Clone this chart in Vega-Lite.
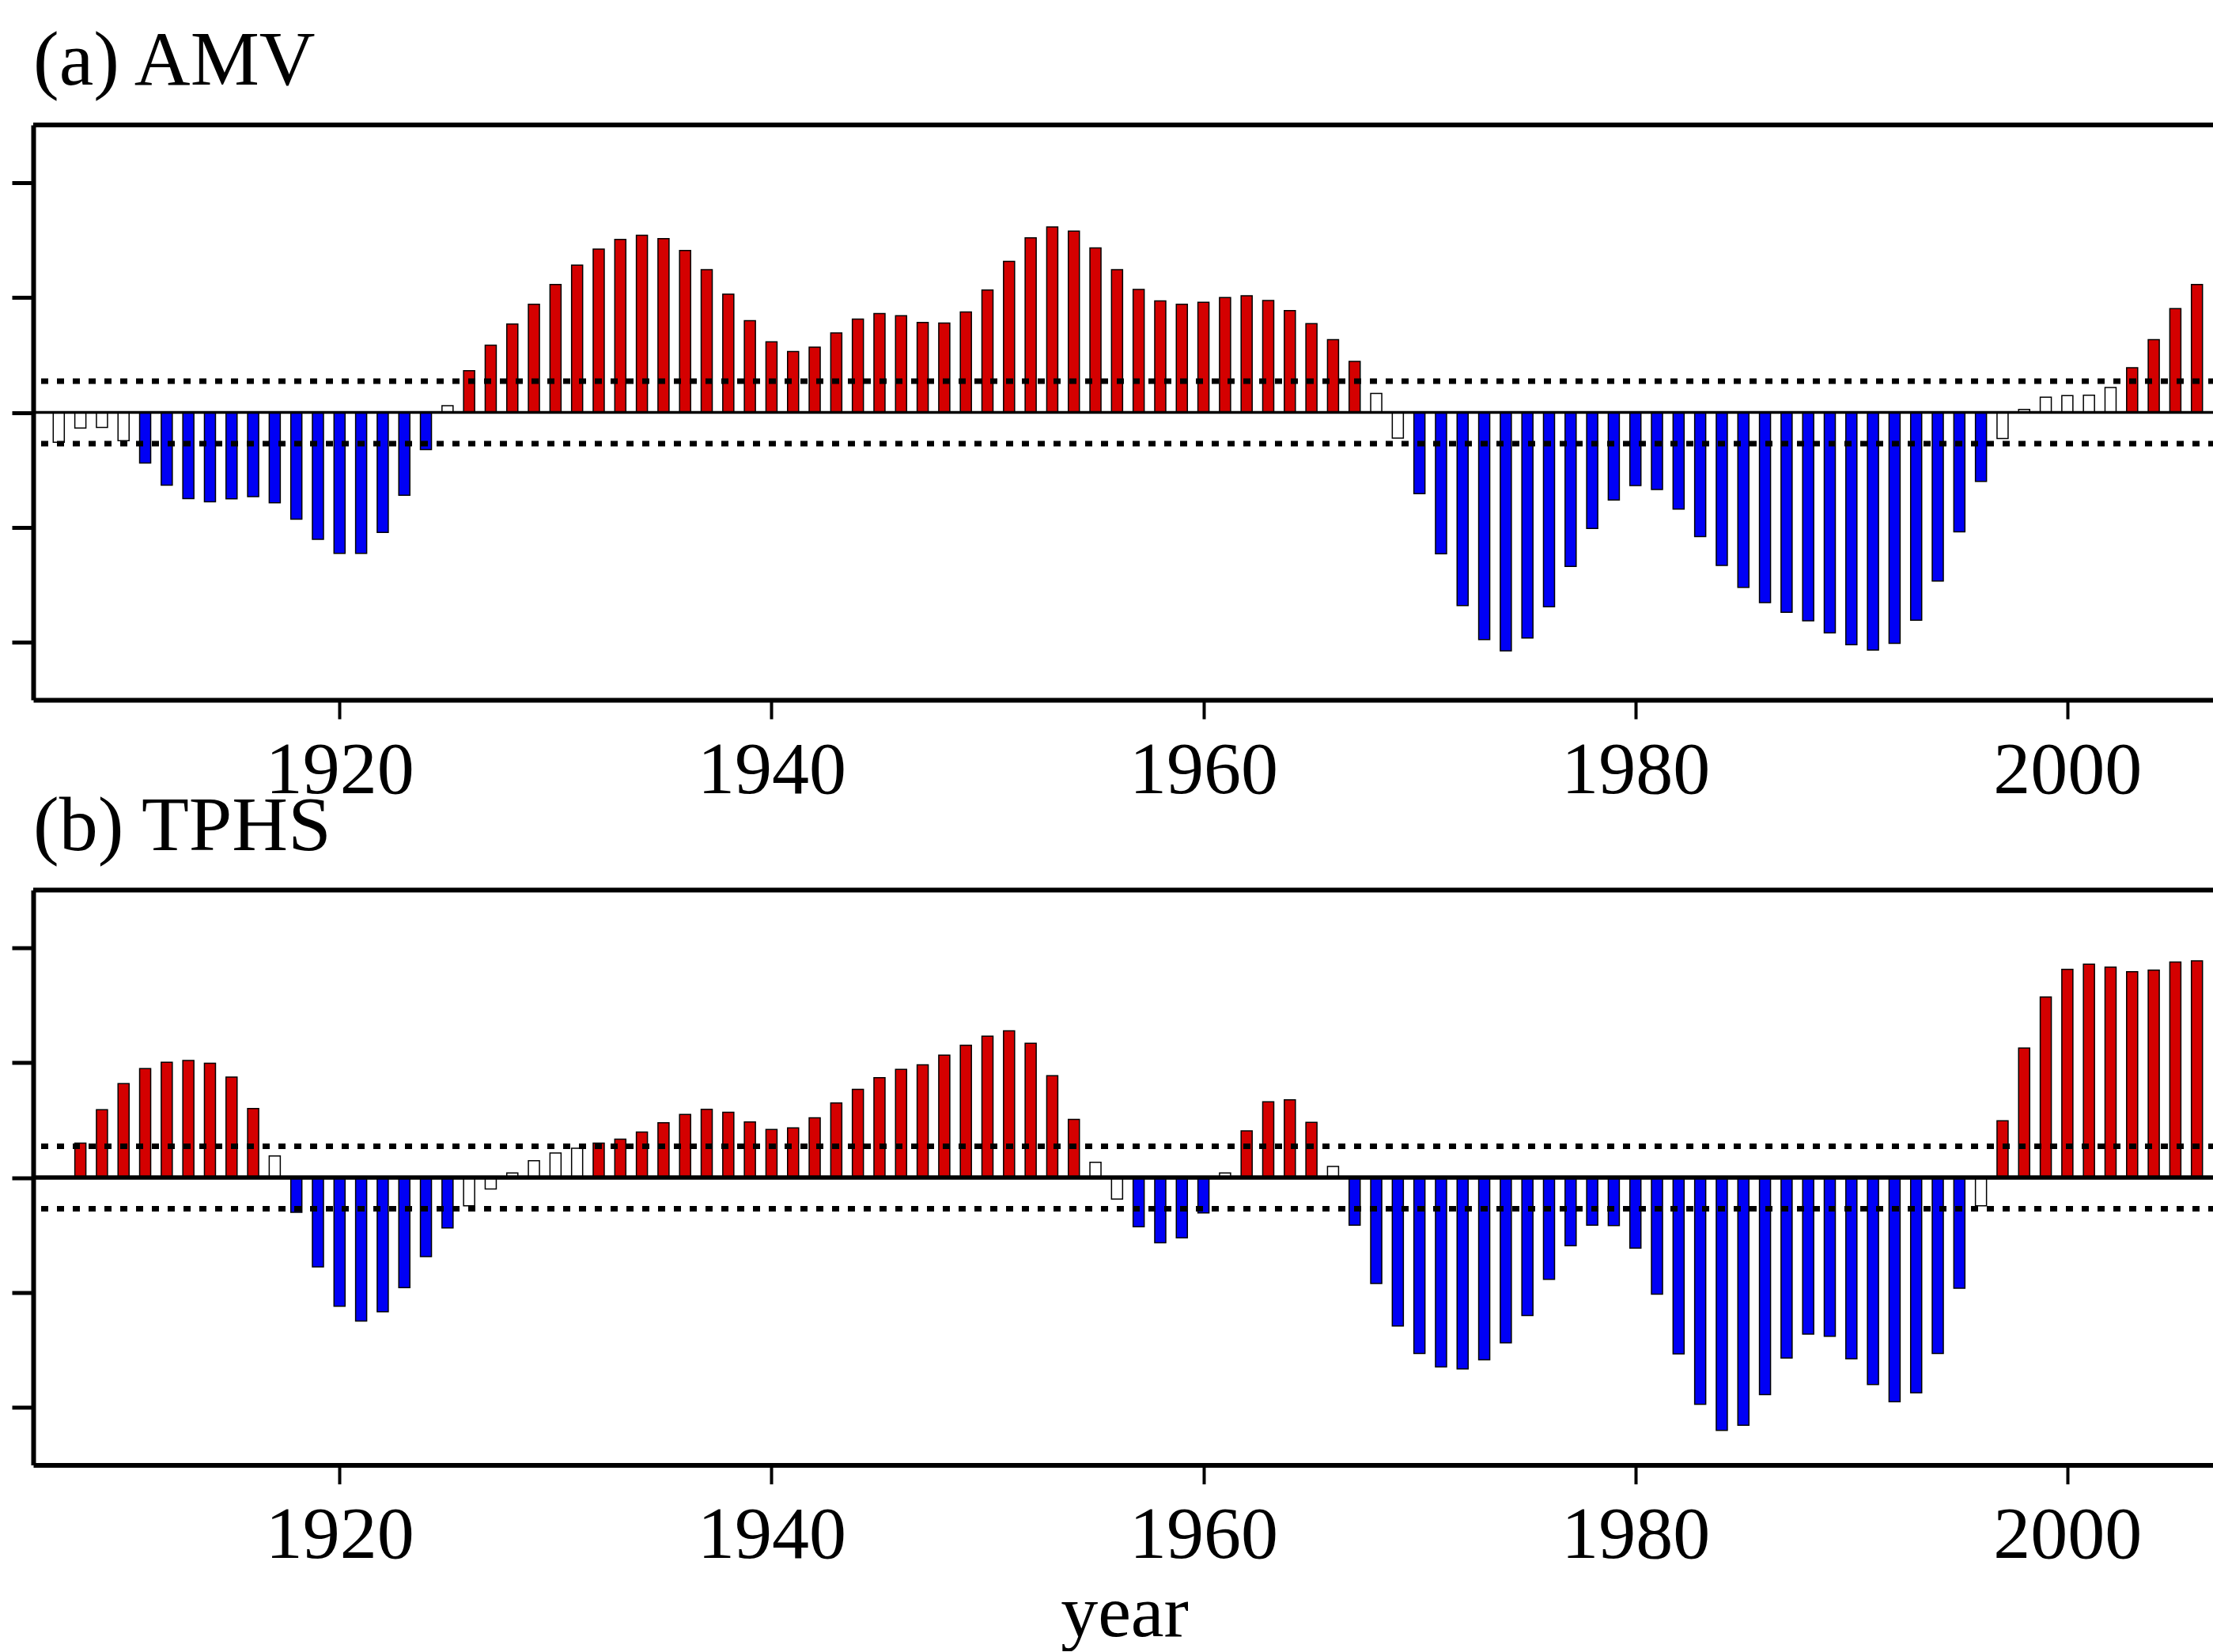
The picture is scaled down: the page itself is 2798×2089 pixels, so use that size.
{
  "$schema": "https://vega.github.io/schema/vega-lite/v6.json",
  "background": "white",
  "padding": {"left": 12, "top": 29, "right": 0, "bottom": 0},
  "config": {
    "view": {"stroke": null},
    "font": "Liberation Serif",
    "title": {"font": "Liberation Serif", "fontSize": 98, "fontWeight": "normal", "anchor": "start", "frame": "group", "baseline": "alphabetic", "offset": 27, "color": "black"},
    "axis": {"grid": false, "domainColor": "black", "tickColor": "black", "labelColor": "black", "titleColor": "black", "labelLimit": 0}
  },
  "datasets": {
    "series": [
      {"series":"AMV","year":1907,"v":-0.26},{"series":"AMV","year":1908,"v":-0.136},{"series":"AMV","year":1909,"v":-0.13},{"series":"AMV","year":1910,"v":-0.246},
      {"series":"AMV","year":1911,"v":-0.44},{"series":"AMV","year":1912,"v":-0.632},{"series":"AMV","year":1913,"v":-0.749},{"series":"AMV","year":1914,"v":-0.778},
      {"series":"AMV","year":1915,"v":-0.752},{"series":"AMV","year":1916,"v":-0.733},{"series":"AMV","year":1917,"v":-0.785},{"series":"AMV","year":1918,"v":-0.928},
      {"series":"AMV","year":1919,"v":-1.103},{"series":"AMV","year":1920,"v":-1.226},{"series":"AMV","year":1921,"v":-1.226},{"series":"AMV","year":1922,"v":-1.044},
      {"series":"AMV","year":1923,"v":-0.72},{"series":"AMV","year":1924,"v":-0.324},{"series":"AMV","year":1925,"v":0.058},{"series":"AMV","year":1926,"v":0.363},
      {"series":"AMV","year":1927,"v":0.584},{"series":"AMV","year":1928,"v":0.769},{"series":"AMV","year":1929,"v":0.941},{"series":"AMV","year":1930,"v":1.113},
      {"series":"AMV","year":1931,"v":1.281},{"series":"AMV","year":1932,"v":1.421},{"series":"AMV","year":1933,"v":1.505},{"series":"AMV","year":1934,"v":1.541},
      {"series":"AMV","year":1935,"v":1.512},{"series":"AMV","year":1936,"v":1.408},{"series":"AMV","year":1937,"v":1.242},{"series":"AMV","year":1938,"v":1.028},
      {"series":"AMV","year":1939,"v":0.798},{"series":"AMV","year":1940,"v":0.613},{"series":"AMV","year":1941,"v":0.529},{"series":"AMV","year":1942,"v":0.568},
      {"series":"AMV","year":1943,"v":0.691},{"series":"AMV","year":1944,"v":0.811},{"series":"AMV","year":1945,"v":0.86},{"series":"AMV","year":1946,"v":0.84},
      {"series":"AMV","year":1947,"v":0.782},{"series":"AMV","year":1948,"v":0.778},{"series":"AMV","year":1949,"v":0.873},{"series":"AMV","year":1950,"v":1.064},
      {"series":"AMV","year":1951,"v":1.314},{"series":"AMV","year":1952,"v":1.518},{"series":"AMV","year":1953,"v":1.612},{"series":"AMV","year":1954,"v":1.576},
      {"series":"AMV","year":1955,"v":1.43},{"series":"AMV","year":1956,"v":1.242},{"series":"AMV","year":1957,"v":1.07},{"series":"AMV","year":1958,"v":0.97},
      {"series":"AMV","year":1959,"v":0.941},{"series":"AMV","year":1960,"v":0.957},{"series":"AMV","year":1961,"v":0.999},{"series":"AMV","year":1962,"v":1.015},
      {"series":"AMV","year":1963,"v":0.973},{"series":"AMV","year":1964,"v":0.885},{"series":"AMV","year":1965,"v":0.772},{"series":"AMV","year":1966,"v":0.632},
      {"series":"AMV","year":1967,"v":0.444},{"series":"AMV","year":1968,"v":0.165},{"series":"AMV","year":1969,"v":-0.224},{"series":"AMV","year":1970,"v":-0.707},
      {"series":"AMV","year":1971,"v":-1.229},{"series":"AMV","year":1972,"v":-1.68},{"series":"AMV","year":1973,"v":-1.975},{"series":"AMV","year":1974,"v":-2.073},
      {"series":"AMV","year":1975,"v":-1.962},{"series":"AMV","year":1976,"v":-1.69},{"series":"AMV","year":1977,"v":-1.34},{"series":"AMV","year":1978,"v":-1.009},
      {"series":"AMV","year":1979,"v":-0.762},{"series":"AMV","year":1980,"v":-0.636},{"series":"AMV","year":1981,"v":-0.671},{"series":"AMV","year":1982,"v":-0.84},
      {"series":"AMV","year":1983,"v":-1.08},{"series":"AMV","year":1984,"v":-1.33},{"series":"AMV","year":1985,"v":-1.521},{"series":"AMV","year":1986,"v":-1.654},
      {"series":"AMV","year":1987,"v":-1.739},{"series":"AMV","year":1988,"v":-1.813},{"series":"AMV","year":1989,"v":-1.917},{"series":"AMV","year":1990,"v":-2.021},
      {"series":"AMV","year":1991,"v":-2.066},{"series":"AMV","year":1992,"v":-2.008},{"series":"AMV","year":1993,"v":-1.807},{"series":"AMV","year":1994,"v":-1.466},
      {"series":"AMV","year":1995,"v":-1.038},{"series":"AMV","year":1996,"v":-0.6},{"series":"AMV","year":1997,"v":-0.227},{"series":"AMV","year":1998,"v":0.026},
      {"series":"AMV","year":1999,"v":0.133},{"series":"AMV","year":2000,"v":0.146},{"series":"AMV","year":2001,"v":0.149},{"series":"AMV","year":2002,"v":0.217},
      {"series":"AMV","year":2003,"v":0.389},{"series":"AMV","year":2004,"v":0.632},{"series":"AMV","year":2005,"v":0.902},{"series":"AMV","year":2006,"v":1.113},
      {"series":"TPHS","year":1907,"v":0.0},{"series":"TPHS","year":1908,"v":0.3},{"series":"TPHS","year":1909,"v":0.59},{"series":"TPHS","year":1910,"v":0.817},
      {"series":"TPHS","year":1911,"v":0.947},{"series":"TPHS","year":1912,"v":1.002},{"series":"TPHS","year":1913,"v":1.018},{"series":"TPHS","year":1914,"v":0.993},
      {"series":"TPHS","year":1915,"v":0.873},{"series":"TPHS","year":1916,"v":0.6},{"series":"TPHS","year":1917,"v":0.188},{"series":"TPHS","year":1918,"v":-0.302},
      {"series":"TPHS","year":1919,"v":-0.778},{"series":"TPHS","year":1920,"v":-1.119},{"series":"TPHS","year":1921,"v":-1.248},{"series":"TPHS","year":1922,"v":-1.168},
      {"series":"TPHS","year":1923,"v":-0.957},{"series":"TPHS","year":1924,"v":-0.688},{"series":"TPHS","year":1925,"v":-0.438},{"series":"TPHS","year":1926,"v":-0.246},
      {"series":"TPHS","year":1927,"v":-0.1},{"series":"TPHS","year":1928,"v":0.039},{"series":"TPHS","year":1929,"v":0.146},{"series":"TPHS","year":1930,"v":0.214},
      {"series":"TPHS","year":1931,"v":0.255},{"series":"TPHS","year":1932,"v":0.3},{"series":"TPHS","year":1933,"v":0.334},{"series":"TPHS","year":1934,"v":0.396},
      {"series":"TPHS","year":1935,"v":0.477},{"series":"TPHS","year":1936,"v":0.548},{"series":"TPHS","year":1937,"v":0.594},{"series":"TPHS","year":1938,"v":0.568},
      {"series":"TPHS","year":1939,"v":0.483},{"series":"TPHS","year":1940,"v":0.418},{"series":"TPHS","year":1941,"v":0.431},{"series":"TPHS","year":1942,"v":0.519},
      {"series":"TPHS","year":1943,"v":0.649},{"series":"TPHS","year":1944,"v":0.766},{"series":"TPHS","year":1945,"v":0.869},{"series":"TPHS","year":1946,"v":0.941},
      {"series":"TPHS","year":1947,"v":0.98},{"series":"TPHS","year":1948,"v":1.064},{"series":"TPHS","year":1949,"v":1.151},{"series":"TPHS","year":1950,"v":1.229},
      {"series":"TPHS","year":1951,"v":1.275},{"series":"TPHS","year":1952,"v":1.168},{"series":"TPHS","year":1953,"v":0.885},{"series":"TPHS","year":1954,"v":0.506},
      {"series":"TPHS","year":1955,"v":0.133},{"series":"TPHS","year":1956,"v":-0.188},{"series":"TPHS","year":1957,"v":-0.428},{"series":"TPHS","year":1958,"v":-0.567},
      {"series":"TPHS","year":1959,"v":-0.525},{"series":"TPHS","year":1960,"v":-0.308},{"series":"TPHS","year":1961,"v":0.039},{"series":"TPHS","year":1962,"v":0.405},
      {"series":"TPHS","year":1963,"v":0.658},{"series":"TPHS","year":1964,"v":0.675},{"series":"TPHS","year":1965,"v":0.48},{"series":"TPHS","year":1966,"v":0.097},
      {"series":"TPHS","year":1967,"v":-0.415},{"series":"TPHS","year":1968,"v":-0.921},{"series":"TPHS","year":1969,"v":-1.291},{"series":"TPHS","year":1970,"v":-1.531},
      {"series":"TPHS","year":1971,"v":-1.648},{"series":"TPHS","year":1972,"v":-1.664},{"series":"TPHS","year":1973,"v":-1.586},{"series":"TPHS","year":1974,"v":-1.437},
      {"series":"TPHS","year":1975,"v":-1.2},{"series":"TPHS","year":1976,"v":-0.886},{"series":"TPHS","year":1977,"v":-0.594},{"series":"TPHS","year":1978,"v":-0.415},
      {"series":"TPHS","year":1979,"v":-0.418},{"series":"TPHS","year":1980,"v":-0.613},{"series":"TPHS","year":1981,"v":-1.015},{"series":"TPHS","year":1982,"v":-1.534},
      {"series":"TPHS","year":1983,"v":-1.972},{"series":"TPHS","year":1984,"v":-2.199},{"series":"TPHS","year":1985,"v":-2.154},{"series":"TPHS","year":1986,"v":-1.888},
      {"series":"TPHS","year":1987,"v":-1.57},{"series":"TPHS","year":1988,"v":-1.362},{"series":"TPHS","year":1989,"v":-1.381},{"series":"TPHS","year":1990,"v":-1.576},
      {"series":"TPHS","year":1991,"v":-1.8},{"series":"TPHS","year":1992,"v":-1.949},{"series":"TPHS","year":1993,"v":-1.872},{"series":"TPHS","year":1994,"v":-1.531},
      {"series":"TPHS","year":1995,"v":-0.963},{"series":"TPHS","year":1996,"v":-0.246},{"series":"TPHS","year":1997,"v":0.493},{"series":"TPHS","year":1998,"v":1.126},
      {"series":"TPHS","year":1999,"v":1.57},{"series":"TPHS","year":2000,"v":1.81},{"series":"TPHS","year":2001,"v":1.855},{"series":"TPHS","year":2002,"v":1.829},
      {"series":"TPHS","year":2003,"v":1.79},{"series":"TPHS","year":2004,"v":1.803},{"series":"TPHS","year":2005,"v":1.875},{"series":"TPHS","year":2006,"v":1.885}
    ],
    "one": [{}]
  },
  "spacing": 240.5,
  "bounds": "flush",
  "vconcat": [
    {
      "width": 2759,
      "height": 727,
      "title": {"text": "(a) AMV"},
      "layer": [
        {
          "data": {"name": "series"},
          "transform": [{"filter": "datum.series === 'AMV'"}],
          "mark": {"type": "bar", "size": 14, "stroke": "black", "strokeWidth": 1.5},
          "encoding": {
            "x": {"field": "year", "type": "quantitative", "scale": {"domain": [1906, 2006.67], "nice": false, "zero": false},
                  "axis": {"orient": "bottom", "values": [1920, 1940, 1960, 1980, 2000], "format": "d", "title": null, "labelFont": "Liberation Serif", "labelFontSize": 94, "labelBaseline": "alphabetic", "labelPadding": 93, "labelFlush": false, "labelOverlap": false, "tickSize": 24, "tickWidth": 4, "domainWidth": 6}},
            "y": {"field": "v", "type": "quantitative", "scale": {"domain": [-2.5, 2.5], "nice": false},
                  "axis": {"orient": "left", "values": [-2, -1, 0, 1, 2], "labels": false, "title": null, "tickSize": 27, "tickWidth": 5, "domainWidth": 6}},
            "fill": {"condition": [{"test": "datum.v > 0.272", "value": "#d40000"}, {"test": "datum.v < -0.272", "value": "#0000f5"}], "value": "white"}
          }
        },
        {"data": {"name": "one"}, "mark": {"type": "rule", "strokeWidth": 3.5, "color": "black"}, "encoding": {"y": {"datum": 0}}},
        {"data": {"name": "one"}, "mark": {"type": "rule", "strokeWidth": 7, "strokeDash": [9, 11], "color": "black"}, "encoding": {"y": {"datum": 0.272}}},
        {"data": {"name": "one"}, "mark": {"type": "rule", "strokeWidth": 7, "strokeDash": [9, 11], "color": "black"}, "encoding": {"y": {"datum": -0.272}}},
        {"data": {"name": "one"}, "mark": {"type": "rule", "strokeWidth": 6, "color": "black"}, "encoding": {"y": {"datum": 2.5}}}
      ]
    },
    {
      "width": 2759,
      "height": 727,
      "title": {"text": "(b) TPHS"},
      "layer": [
        {
          "data": {"name": "series"},
          "transform": [{"filter": "datum.series === 'TPHS'"}],
          "mark": {"type": "bar", "size": 14, "stroke": "black", "strokeWidth": 1.5},
          "encoding": {
            "x": {"field": "year", "type": "quantitative", "scale": {"domain": [1906, 2006.67], "nice": false, "zero": false},
                  "axis": {"orient": "bottom", "values": [1920, 1940, 1960, 1980, 2000], "format": "d", "title": "year", "titleFont": "Liberation Serif", "titleFontSize": 94, "titleFontWeight": "normal", "titleBaseline": "alphabetic", "titleY": 216, "labelFont": "Liberation Serif", "labelFontSize": 94, "labelBaseline": "alphabetic", "labelPadding": 93, "labelFlush": false, "labelOverlap": false, "tickSize": 24, "tickWidth": 4, "domainWidth": 6}},
            "y": {"field": "v", "type": "quantitative", "scale": {"domain": [-2.5, 2.5], "nice": false},
                  "axis": {"orient": "left", "values": [-2, -1, 0, 1, 2], "labels": false, "title": null, "tickSize": 27, "tickWidth": 5, "domainWidth": 6}},
            "fill": {"condition": [{"test": "datum.v > 0.272", "value": "#d40000"}, {"test": "datum.v < -0.272", "value": "#0000f5"}], "value": "white"}
          }
        },
        {"data": {"name": "one"}, "mark": {"type": "rule", "strokeWidth": 5.5, "color": "black"}, "encoding": {"y": {"datum": 0}}},
        {"data": {"name": "one"}, "mark": {"type": "rule", "strokeWidth": 7, "strokeDash": [9, 11], "color": "black"}, "encoding": {"y": {"datum": 0.272}}},
        {"data": {"name": "one"}, "mark": {"type": "rule", "strokeWidth": 7, "strokeDash": [9, 11], "color": "black"}, "encoding": {"y": {"datum": -0.272}}},
        {"data": {"name": "one"}, "mark": {"type": "rule", "strokeWidth": 6, "color": "black"}, "encoding": {"y": {"datum": 2.5}}}
      ]
    }
  ]
}
